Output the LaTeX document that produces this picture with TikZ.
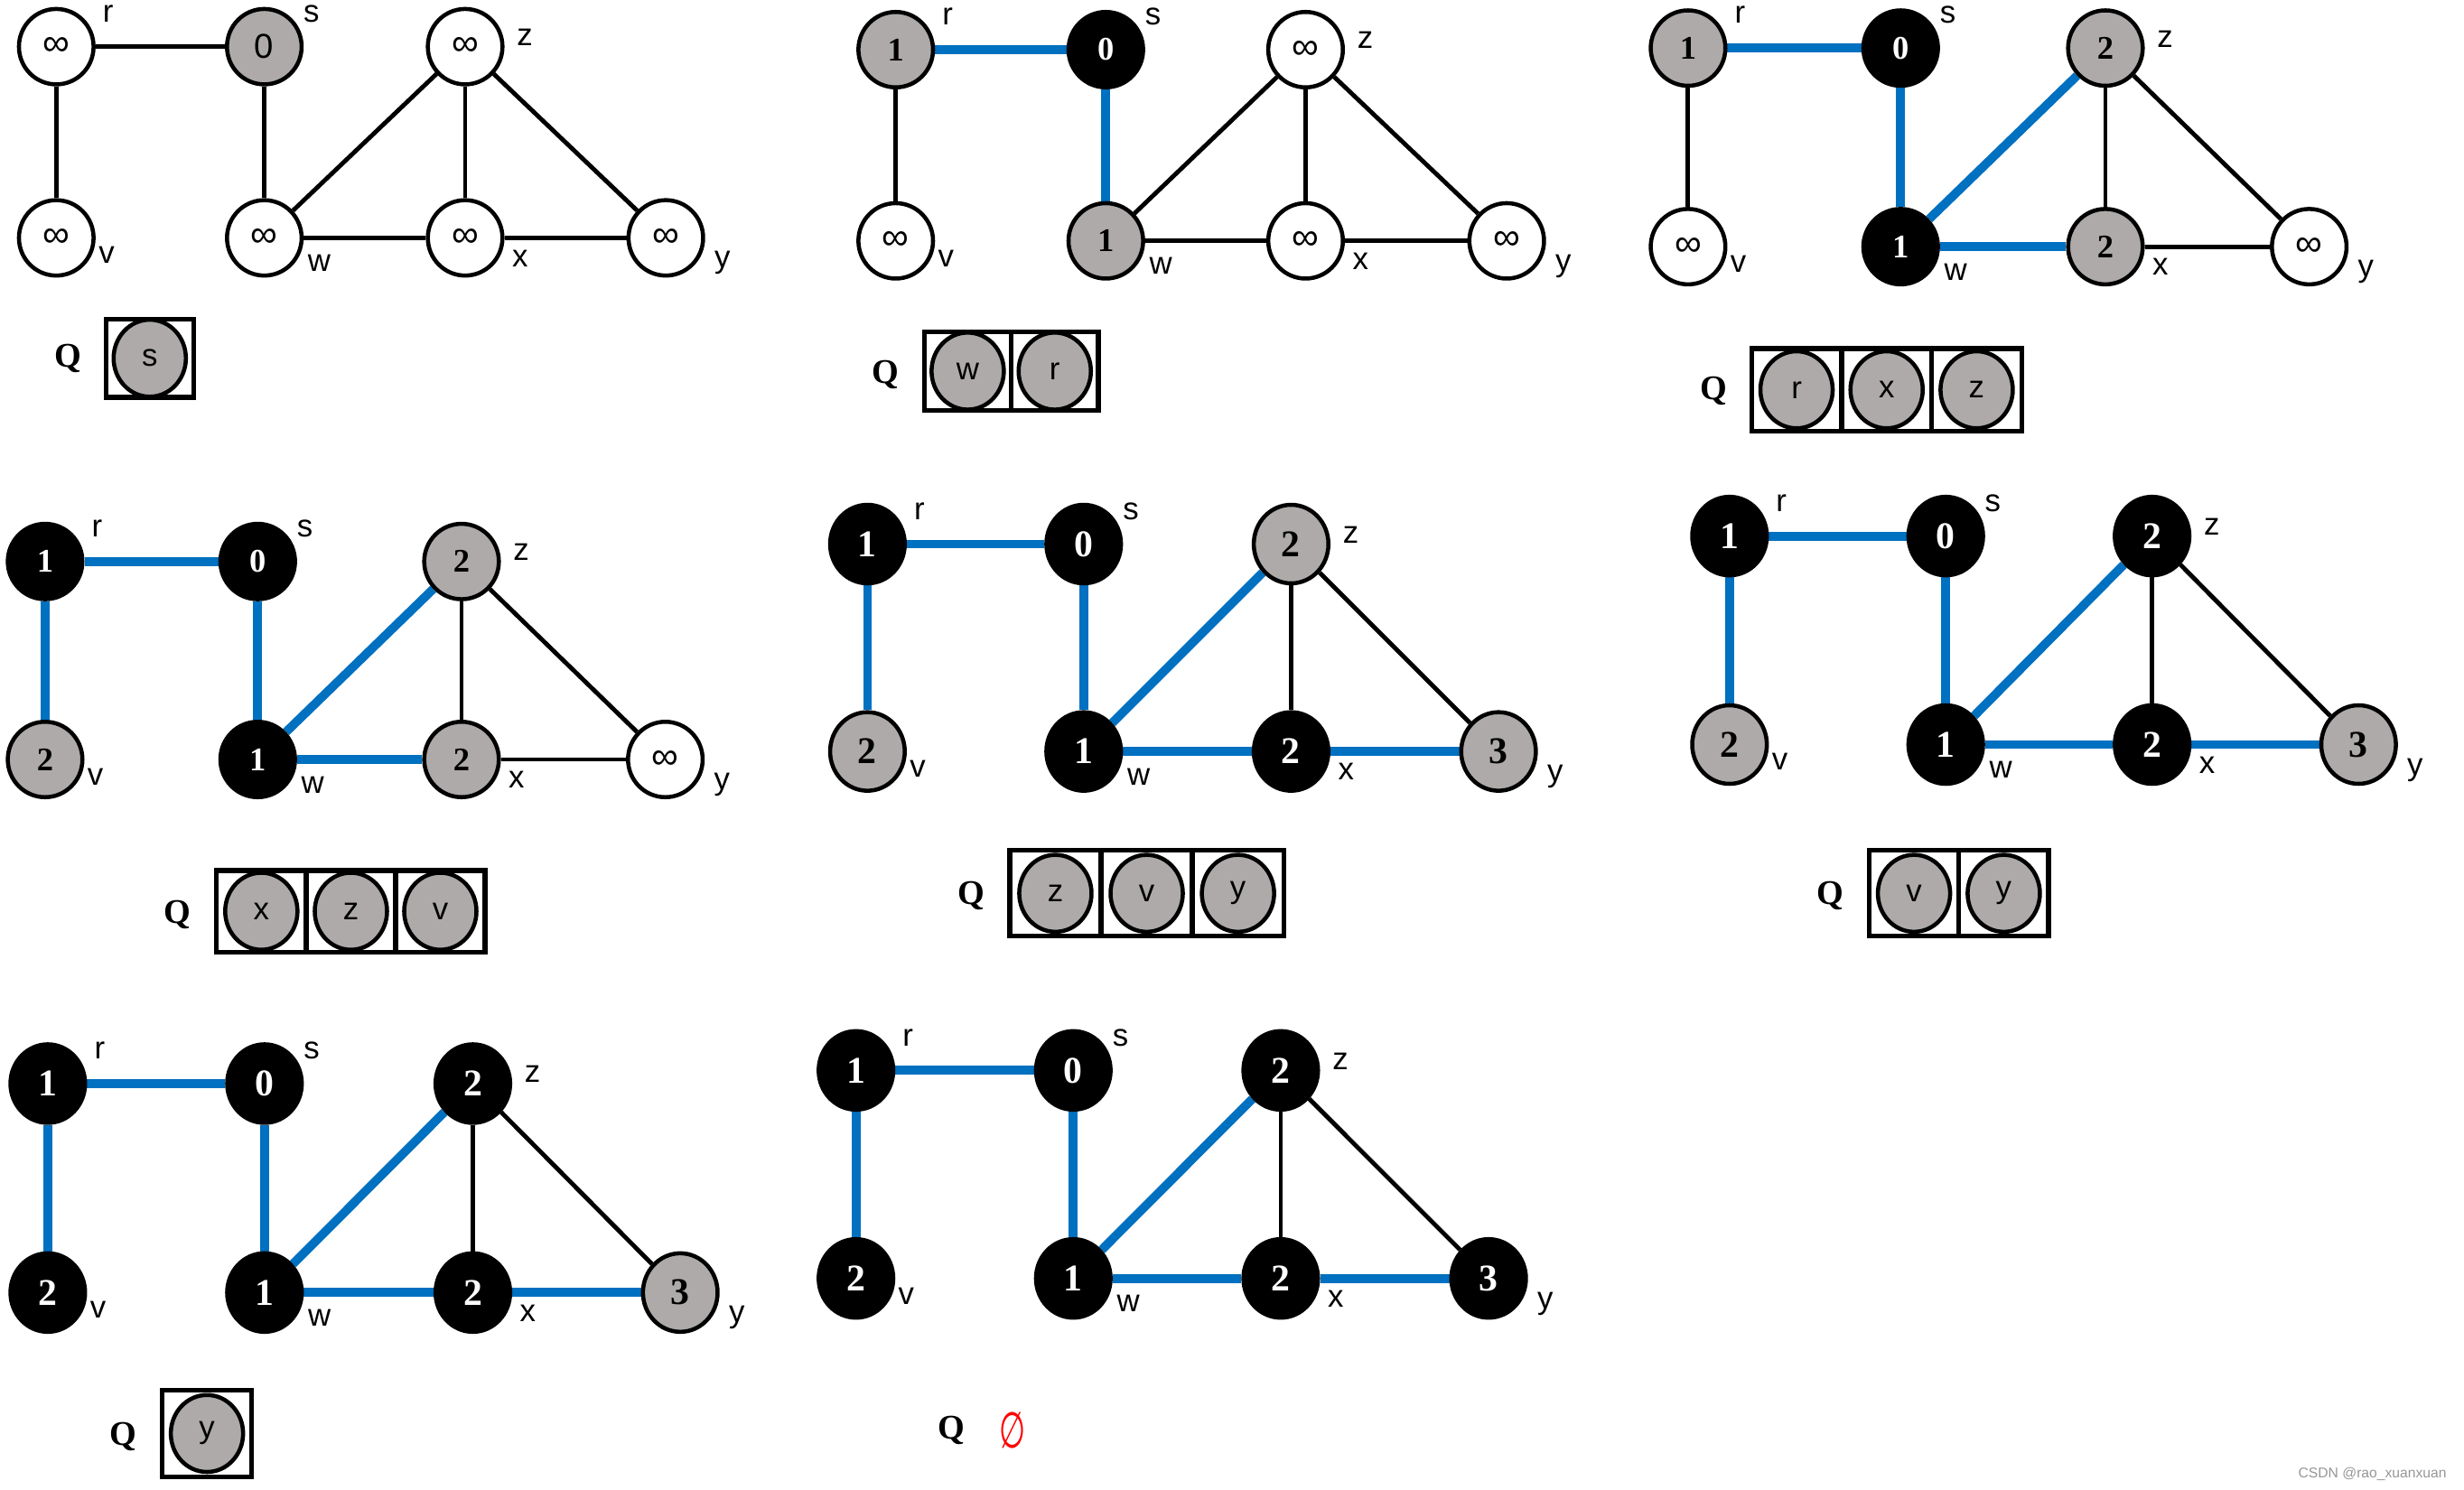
\documentclass[tikz,border=0pt]{standalone}
\usepackage{fontspec}
\setmainfont{Liberation Serif}
\newfontfamily\lsans{Liberation Sans}
\newfontfamily\dvsans{DejaVu Sans}
\usetikzlibrary{shapes.geometric}
\definecolor{ngray}{RGB}{174,170,170}
\definecolor{tblue}{RGB}{0,112,192}
\definecolor{wmgray}{RGB}{150,150,150}
\pgfdeclarelayer{bg}
\pgfsetlayers{bg,main}
\tikzset{
  vtx/.style={ellipse, draw=black, line width=2.6pt, minimum width=47.5pt, minimum height=48pt, inner sep=0pt},
  wv/.style={fill=white, font=\lsans\fontsize{24}{24}\selectfont},
  gs/.style={fill=ngray, font=\lsans\fontsize{22}{22}\selectfont},
  gv/.style={fill=ngray, font=\bfseries\fontsize{21}{21}\selectfont},
  bv/.style={fill=black, text=white, font=\bfseries\fontsize{21}{21}\selectfont},
  big/.style={font=\bfseries\fontsize{24}{24}\selectfont, minimum height=50pt},
  qv/.style={fill=ngray, minimum width=46pt, minimum height=49pt, font=\lsans\fontsize{20}{20}\selectfont},
  lbl/.style={font=\lsans\fontsize{20}{20}\selectfont, anchor=mid, inner sep=0pt},
  ke/.style={draw=black, line width=2.8pt},
  te/.style={draw=tblue, line width=5.6pt},
  cell/.style={draw=black, line width=3pt, rectangle, inner sep=0pt},
  qlbl/.style={font=\bfseries\fontsize{22}{22}\selectfont, inner sep=0pt},
}
\newcommand\vt[5]{\node[vtx,#4] (#1) at (#2,#3) {#5};}
\newcommand\lbls[1]{%
  \node[lbl] (#1lr) at ([shift={(33,-18)}]#1r.center) {r};
  \node[lbl] (#1ls) at ([shift={(30,-18)}]#1s.center) {s};
  \node[lbl] (#1lz) at ([shift={(38,-3)}]#1z.center) {z};
  \node[lbl] (#1lv) at ([shift={(32,14)}]#1v.center) {v};
  \node[lbl] (#1lw) at ([shift={(35,19)}]#1w.center) {w};
  \node[lbl] (#1lx) at ([shift={(35,16)}]#1x.center) {x};
  \node[lbl] (#1ly) at ([shift={(36,17)}]#1y.center) {y};}
\newcommand\edg[9]{%
  \begin{pgfonlayer}{bg}
  \draw[#2] (#1r) -- (#1s);
  \draw[#3] (#1r) -- (#1v);
  \draw[#4] (#1s) -- (#1w);
  \draw[#5] (#1w) -- (#1z);
  \draw[#6] (#1w) -- (#1x);
  \draw[#7] (#1z) -- (#1x);
  \draw[#8] (#1z) -- (#1y);
  \draw[#9] (#1x) -- (#1y);
  \end{pgfonlayer}}
\newcommand\qc[6]{\node[cell, minimum width=#5pt, minimum height=#6pt] (#1c) at (#2,#3) {};
  \node[vtx,qv] (#1) at (#2,#3) {#4};}
\begin{document}
\begin{tikzpicture}[x=1pt, y=-1pt]
\useasboundingbox (0,0) rectangle (1568,948);
% ---------- panel 1
\vt{p1r}{35.8}{29.7}{wv}{∞}
\vt{p1s}{168.2}{29.7}{gs}{0}
\vt{p1z}{296}{29.7}{wv}{∞}
\vt{p1v}{35.8}{151.4}{wv}{∞}
\vt{p1w}{168.2}{151.4}{wv}{∞}
\vt{p1x}{296}{151.4}{wv}{∞}
\vt{p1y}{423.7}{151.4}{wv}{∞}
\edg{p1}{ke}{ke}{ke}{ke}{ke}{ke}{ke}{ke}
\lbls{p1}
\node[qlbl] (p1q) at (43.6,228) {Q};
\qc{p1qa}{95.3}{228}{s}{55.6}{49.8}
% ---------- panel 2
\vt{p2r}{570}{31.6}{gv}{1}
\vt{p2s}{703.7}{31.6}{bv}{0}
\vt{p2z}{830.8}{31.6}{wv}{∞}
\vt{p2v}{570}{153.3}{wv}{∞}
\vt{p2w}{703.7}{153.3}{gv}{1}
\vt{p2x}{830.8}{153.3}{wv}{∞}
\vt{p2y}{958.8}{153.3}{wv}{∞}
\edg{p2}{te}{ke}{te}{ke}{ke}{ke}{ke}{ke}
\lbls{p2}
\node[qlbl] (p2q) at (563.5,238.5) {Q};
\qc{p2qa}{615.8}{236.2}{w}{55.4}{49.7}
\qc{p2qb}{671.2}{236.2}{r}{55.4}{49.7}
% ---------- panel 3
\vt{p3r}{1074.2}{30.6}{gv}{1}
\vt{p3s}{1209.5}{30.6}{bv}{0}
\vt{p3z}{1339.8}{30.6}{gv}{2}
\vt{p3v}{1074.2}{157}{wv}{∞}
\vt{p3w}{1209.5}{157}{bv}{1}
\vt{p3x}{1339.8}{157}{gv}{2}
\vt{p3y}{1469.5}{157}{wv}{∞}
\edg{p3}{te}{ke}{te}{te}{te}{ke}{ke}{ke}
\lbls{p3}
\node[qlbl] (p3q) at (1090.7,249) {Q};
\qc{p3qa}{1143.25}{248.1}{r}{57.3}{52.6}
\qc{p3qb}{1200.55}{248.1}{x}{57.3}{52.6}
\qc{p3qc}{1257.85}{248.1}{z}{57.3}{52.6}
% ---------- panel 4
\vt{p4r}{28.7}{357.4}{bv}{1}
\vt{p4s}{164}{357.4}{bv}{0}
\vt{p4z}{293.7}{357.4}{gv}{2}
\vt{p4v}{28.7}{483.4}{gv}{2}
\vt{p4w}{164}{483.4}{bv}{1}
\vt{p4x}{293.7}{483.4}{gv}{2}
\vt{p4y}{423.4}{483.4}{wv}{∞}
\edg{p4}{te}{te}{te}{te}{te}{ke}{ke}{ke}
\lbls{p4}
\node[qlbl] (p4q) at (112.8,582.2) {Q};
\qc{p4qa}{166.3}{580}{x}{57}{51.9}
\qc{p4qb}{223.3}{580}{z}{57}{51.9}
\qc{p4qc}{280.2}{580}{v}{57}{51.9}
% ---------- panel 5
\vt{p5r}{552}{346.3}{bv,big}{1}
\vt{p5s}{689.6}{346.3}{bv,big}{0}
\vt{p5z}{821.6}{346.3}{gv,big}{2}
\vt{p5v}{552}{478.3}{gv,big}{2}
\vt{p5w}{689.6}{478.3}{bv,big}{1}
\vt{p5x}{821.6}{478.3}{bv,big}{2}
\vt{p5y}{953.6}{478.3}{gv,big}{3}
\edg{p5}{te}{te}{te}{te}{te}{ke}{ke}{te}
\lbls{p5}
\node[qlbl] (p5q) at (618,570) {Q};
\qc{p5qa}{671.6}{568.6}{z}{58.1}{54.5}
\qc{p5qb}{729.7}{568.6}{v}{58.1}{54.5}
\qc{p5qc}{787.8}{568.6}{y}{58.1}{54.5}
% ---------- panel 6
\vt{p6r}{1100.6}{341.2}{bv,big}{1}
\vt{p6s}{1238.2}{341.2}{bv,big}{0}
\vt{p6z}{1369.5}{341.2}{bv,big}{2}
\vt{p6v}{1100.6}{473.9}{gv,big}{2}
\vt{p6w}{1238.2}{473.9}{bv,big}{1}
\vt{p6x}{1369.5}{473.9}{bv,big}{2}
\vt{p6y}{1500.9}{473.9}{gv,big}{3}
\edg{p6}{te}{te}{te}{te}{te}{ke}{ke}{te}
\lbls{p6}
\node[qlbl] (p6q) at (1164.9,570) {Q};
\qc{p6qa}{1218}{568.6}{v}{57}{54.5}
\qc{p6qb}{1275.1}{568.6}{y}{57}{54.5}
% ---------- panel 7
\vt{p7r}{30.4}{689.7}{bv,big}{1}
\vt{p7s}{168.3}{689.7}{bv,big}{0}
\vt{p7z}{300.9}{689.7}{bv,big}{2}
\vt{p7v}{30.4}{822.7}{bv,big}{2}
\vt{p7w}{168.3}{822.7}{bv,big}{1}
\vt{p7x}{300.9}{822.7}{bv,big}{2}
\vt{p7y}{432.9}{822.7}{gv,big}{3}
\edg{p7}{te}{te}{te}{te}{te}{ke}{ke}{te}
\lbls{p7}
\node[qlbl] (p7q) at (78.2,914.5) {Q};
\qc{p7qa}{131.7}{912.4}{y}{57.1}{55.4}
% ---------- panel 8
\vt{p8r}{544.7}{681.3}{bv,big}{1}
\vt{p8s}{683}{681.3}{bv,big}{0}
\vt{p8z}{815}{681.3}{bv,big}{2}
\vt{p8v}{544.7}{813.7}{bv,big}{2}
\vt{p8w}{683}{813.7}{bv,big}{1}
\vt{p8x}{815}{813.7}{bv,big}{2}
\vt{p8y}{947.3}{813.7}{bv,big}{3}
\edg{p8}{te}{te}{te}{te}{te}{ke}{ke}{te}
\lbls{p8}
\node[qlbl] (p8q) at (605.5,910.5) {Q};
\node[text=red, font=\dvsans\fontsize{32}{32}\selectfont, inner sep=0pt] (p8e) at (644.4,910.5) {\scalebox{0.6}[1]{∅}};
% ---------- watermark
\node[anchor=east, text=wmgray, font=\lsans\fontsize{9}{9}\selectfont, inner sep=0pt] (wm) at (1557,938) {CSDN @rao\_xuanxuan};
\end{tikzpicture}
\end{document}
